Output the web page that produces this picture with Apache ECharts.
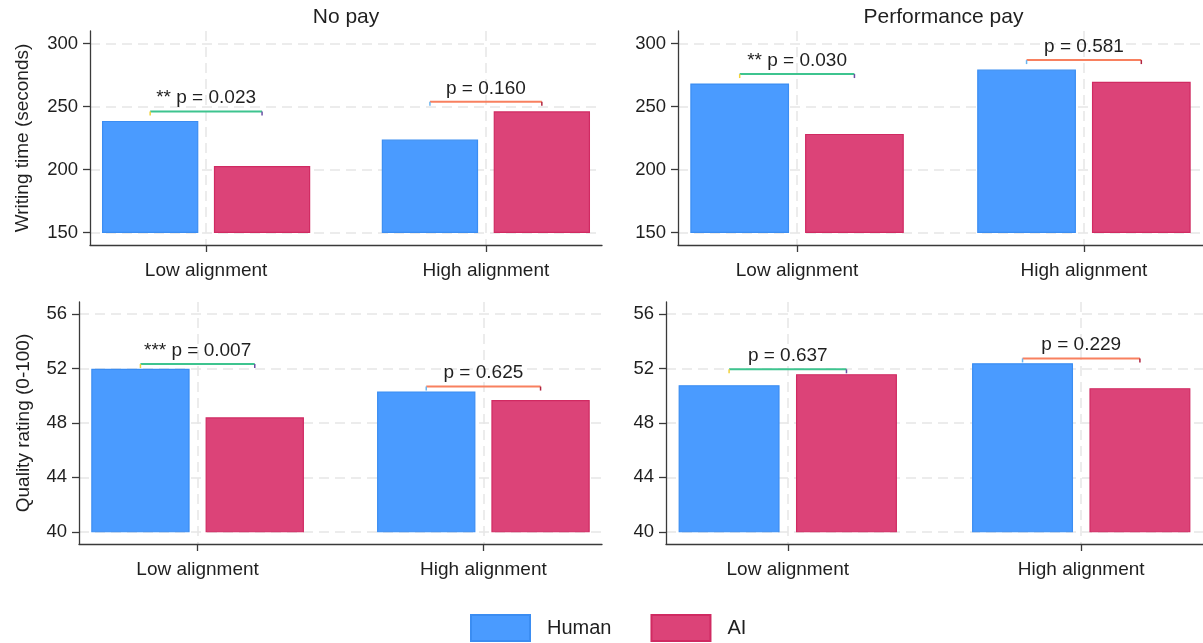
<!DOCTYPE html>
<html>
<head>
<meta charset="utf-8">
<title>Writing time and quality by pay condition</title>
<script src="https://cdn.jsdelivr.net/npm/echarts@6/dist/echarts.min.js"></script>
<style>
  html, body { margin: 0; padding: 0; background: #ffffff; }
  #chart { width: 1203px; height: 643px; }
</style>
</head>
<body>
<div id="chart"></div>
<script>
// ---- data ----
const categories = ['Low alignment', 'High alignment'];
const payConditions = ['No pay', 'Performance pay'];
const sourceNames = ['Human', 'AI'];

// writing time (seconds)
const timeNoPayHuman = [238.1, 223.3];
const timeNoPayAI = [202.2, 245.7];
const timePerfPayHuman = [267.8, 278.9];
const timePerfPayAI = [227.8, 269.2];

// quality rating (0-100)
const qualityNoPayHuman = [51.94, 50.28];
const qualityNoPayAI = [48.37, 49.64];
const qualityPerfPayHuman = [50.74, 52.35];
const qualityPerfPayAI = [51.55, 50.52];

// Human vs AI test labels per alignment group
const timePLabelsNoPay = ['** p = 0.023', 'p = 0.160'];
const timePLabelsPerfPay = ['** p = 0.030', 'p = 0.581'];
const qualityPLabelsNoPay = ['*** p = 0.007', 'p = 0.625'];
const qualityPLabelsPerfPay = ['p = 0.637', 'p = 0.229'];

const timeTicks = [150, 200, 250, 300];
const qualityTicks = [40, 44, 48, 52, 56];
const categoryTicks = [1, 2];

// ---- styling ----
const FONT = '"Liberation Sans", Arial, Helvetica, sans-serif';
const TEXT = '#1f1f1f';
const AXIS = '#3a3a3a';
const GRID_LINE = '#e6e6e6';
const HUMAN_FILL = '#4a9bff', HUMAN_EDGE = '#3b8df2';
const AI_FILL = '#dc4378', AI_EDGE = '#d02a62';
const BRACKET_STYLES = [
  { main: '#3ec48f', left: '#f2d23a', right: '#6b4fa3' },
  { main: '#f8805f', left: '#6ab5f0', right: '#b02440' }
];
const BAR_OFFSET = 0.2;
const BAR_HALF = 0.17;

const panels = [
  { grid: { left: 90, top: 31, width: 512, height: 214 }, yRange: [140, 310], ticks: timeTicks,
    base: 150, lift: 8, human: timeNoPayHuman, ai: timeNoPayAI, p: timePLabelsNoPay,
    title: payConditions[0], yName: 'Writing time (seconds)', nameGap: 58 },
  { grid: { left: 678, top: 31, width: 531, height: 214 }, yRange: [140, 310], ticks: timeTicks,
    base: 150, lift: 8, human: timePerfPayHuman, ai: timePerfPayAI, p: timePLabelsPerfPay,
    title: payConditions[1], yName: '', nameGap: 0 },
  { grid: { left: 79, top: 302, width: 523, height: 242 }, yRange: [39.1, 56.9], ticks: qualityTicks,
    base: 40, lift: 0.4, human: qualityNoPayHuman, ai: qualityNoPayAI, p: qualityPLabelsNoPay,
    title: null, yName: 'Quality rating (0-100)', nameGap: 46 },
  { grid: { left: 666, top: 302, width: 545, height: 242 }, yRange: [39.1, 56.9], ticks: qualityTicks,
    base: 40, lift: 0.4, human: qualityPerfPayHuman, ai: qualityPerfPayAI, p: qualityPLabelsPerfPay,
    title: null, yName: '', nameGap: 0 }
];

// a bar drawn from the panel's base value up to its value
function barRenderer(base, offset) {
  return function (params, api) {
    const x = api.value(0) + offset;
    const v = api.value(1);
    const tl = api.coord([x - BAR_HALF, v]);
    const br = api.coord([x + BAR_HALF, base]);
    return {
      type: 'rect',
      shape: { x: tl[0], y: tl[1], width: br[0] - tl[0], height: br[1] - tl[1] },
      style: api.style()
    };
  };
}

// bracket joining the two bar centres, with its test label above
function bracketRenderer(labels) {
  return function (params, api) {
    const c = api.value(0);
    const yv = api.value(1);
    const a = api.coord([c - BAR_OFFSET, yv]);
    const b = api.coord([c + BAR_OFFSET, yv]);
    const s = BRACKET_STYLES[params.dataIndex];
    return {
      type: 'group',
      children: [
        { type: 'line', shape: { x1: a[0], y1: a[1], x2: b[0], y2: b[1] },
          style: { stroke: s.main, lineWidth: 2 } },
        { type: 'line', shape: { x1: a[0], y1: a[1], x2: a[0], y2: a[1] + 4 },
          style: { stroke: s.left, lineWidth: 1.5 } },
        { type: 'line', shape: { x1: b[0], y1: b[1], x2: b[0], y2: b[1] + 4 },
          style: { stroke: s.right, lineWidth: 1.5 } },
        { type: 'text', x: (a[0] + b[0]) / 2, y: a[1] - 4,
          style: { text: labels[params.dataIndex], fill: TEXT, font: '19px ' + FONT,
                   textAlign: 'center', textVerticalAlign: 'bottom' } }
      ]
    };
  };
}

const grids = [], xAxes = [], yAxes = [], series = [], graphics = [];

panels.forEach(function (pn, i) {
  grids.push(Object.assign({ containLabel: false }, pn.grid));

  xAxes.push({
    type: 'value', gridIndex: i, min: 0.585, max: 2.415,
    axisLine: { show: true, onZero: false, lineStyle: { color: AXIS, width: 1.3 } },
    axisTick: { show: true, customValues: categoryTicks, length: 7, lineStyle: { color: AXIS, width: 1.3 } },
    axisLabel: { customValues: categoryTicks, formatter: function (v) { return categories[Math.round(v) - 1]; },
                 fontSize: 19, color: TEXT, fontFamily: FONT, margin: 16 },
    splitLine: { show: true, lineStyle: { type: [10, 6], color: GRID_LINE, width: 1.5 } }
  });

  yAxes.push({
    type: 'value', gridIndex: i, min: pn.yRange[0], max: pn.yRange[1],
    name: pn.yName, nameLocation: 'middle', nameRotate: 90, nameGap: pn.nameGap,
    nameTextStyle: { fontSize: 19, color: TEXT, fontFamily: FONT },
    axisLine: { show: true, onZero: false, lineStyle: { color: AXIS, width: 1.3 } },
    axisTick: { show: true, customValues: pn.ticks, length: 7, lineStyle: { color: AXIS, width: 1.3 } },
    axisLabel: { customValues: pn.ticks, fontSize: 18.5, color: TEXT, fontFamily: FONT, margin: 12 },
    splitLine: { show: true, lineStyle: { type: [10, 6], color: GRID_LINE, width: 1.5 } }
  });

  series.push({
    type: 'custom', name: sourceNames[0], xAxisIndex: i, yAxisIndex: i,
    renderItem: barRenderer(pn.base, -BAR_OFFSET),
    itemStyle: { color: HUMAN_FILL, borderColor: HUMAN_EDGE, borderWidth: 1.2 },
    data: categoryTicks.map(function (c, k) { return [c, pn.human[k]]; })
  });
  series.push({
    type: 'custom', name: sourceNames[1], xAxisIndex: i, yAxisIndex: i,
    renderItem: barRenderer(pn.base, BAR_OFFSET),
    itemStyle: { color: AI_FILL, borderColor: AI_EDGE, borderWidth: 1.2 },
    data: categoryTicks.map(function (c, k) { return [c, pn.ai[k]]; })
  });
  series.push({
    type: 'custom', name: 'tests', xAxisIndex: i, yAxisIndex: i,
    renderItem: bracketRenderer(pn.p), z: 5,
    data: categoryTicks.map(function (c, k) { return [c, Math.max(pn.human[k], pn.ai[k]) + pn.lift]; })
  });

  if (pn.title) {
    graphics.push({
      type: 'text', x: pn.grid.left + pn.grid.width / 2, y: 17,
      style: { text: pn.title, fill: TEXT, font: '21px ' + FONT, textAlign: 'center', textVerticalAlign: 'middle' }
    });
  }
});

const chart = echarts.init(document.getElementById('chart'), null, { renderer: 'canvas' });
chart.setOption({
  animation: false,
  backgroundColor: '#ffffff',
  textStyle: { fontFamily: FONT },
  grid: grids,
  xAxis: xAxes,
  yAxis: yAxes,
  series: series,
  graphic: graphics,
  legend: {
    data: [
      { name: sourceNames[0], icon: 'rect' },
      { name: sourceNames[1], icon: 'rect' }
    ],
    left: 465, top: 609, itemWidth: 59, itemHeight: 26, itemGap: 39,
    textStyle: { fontSize: 20, color: TEXT, fontFamily: FONT, padding: [0, 0, 0, 12] },
    selectedMode: false
  }
});
</script>
</body>
</html>
